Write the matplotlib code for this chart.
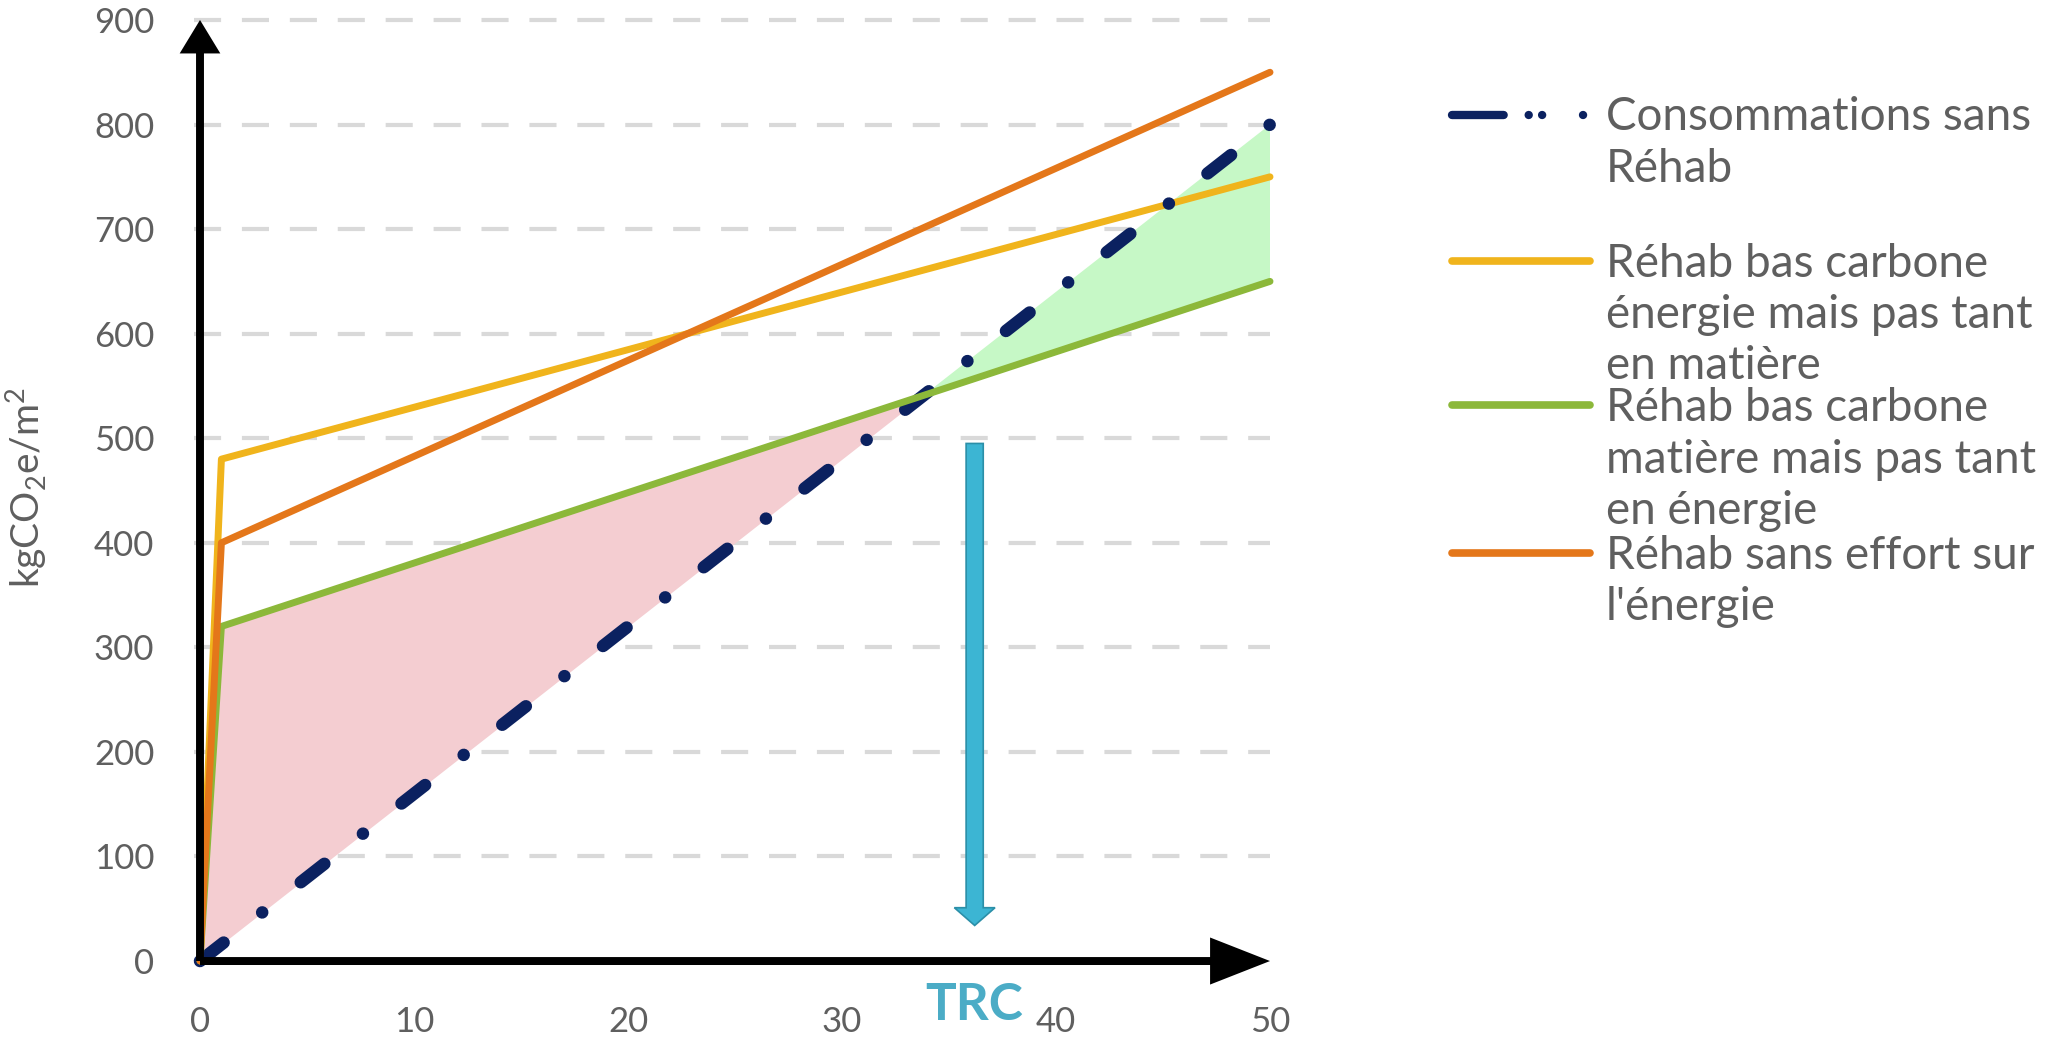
import numpy as np
import matplotlib
matplotlib.use("Agg")
import matplotlib.pyplot as plt
from matplotlib.lines import Line2D

plt.rcParams['font.family'] = ['Lato', 'DejaVu Sans']

# data (years -> kgCO2e/m2)
annees = [0, 1, 50]
sans_rehab = [0, 16, 800]
bas_carbone_energie = [0, 480, 750]
bas_carbone_matiere = [0, 320, 650]
sans_effort = [0, 400, 850]

labels = ["Consommations sans\nRéhab",
          "Réhab bas carbone\nénergie mais pas tant\nen matière",
          "Réhab bas carbone\nmatière mais pas tant\nen énergie",
          "Réhab sans effort sur\nl'énergie"]
yticks = [0, 100, 200, 300, 400, 500, 600, 700, 800, 900]
xticks = [0, 10, 20, 30, 40, 50]
trc = 36.2
trc_top = 495
trc_bottom = 34

navy = '#0b2160'
yellow = '#f0b41c'
green = '#8cb83a'
orange = '#e4771a'
grey = '#5f5f5f'
teal = '#3cb5d3'

W, H = 2064, 1037
fig = plt.figure(figsize=(W / 100, H / 100), dpi=100)
ax = fig.add_axes([157.2 / W, (H - 992.4) / H, 1155.6 / W, (992.4 - 4.3) / H])
ax.set_xlim(-2, 52)
ax.set_ylim(-30, 915)
for s in ax.spines.values():
    s.set_visible(False)

# grid
ax.hlines(yticks[1:], -0.3, 50, colors='#d9d9d9', lw=3, linestyles=(0, (6.5, 5)), zorder=0)

g = np.array(bas_carbone_matiere)
n = np.array(sans_rehab)
ax.fill_between(annees, n, g, where=g >= n, interpolate=True, color='#f4cdd1', lw=0, zorder=1)
ax.fill_between(annees, n, g, where=n >= g, interpolate=True, color='#c6f8c6', lw=0, zorder=1)

ax.plot(annees, bas_carbone_energie, color=yellow, lw=5, zorder=3, solid_capstyle='round')
ax.plot(annees, sans_rehab, color=navy, lw=9, zorder=4,
        linestyle=(0, (2.4, 3.91, 0.01, 3.91)), dash_capstyle='round')
ax.plot(annees, bas_carbone_matiere, color=green, lw=5, zorder=5, solid_capstyle='round')
ax.plot(annees, sans_effort, color=orange, lw=5, zorder=6, solid_capstyle='round')

# axes drawn as arrows
ax.arrow(0, 0, 0, 900, width=0.37, head_width=1.9, head_length=32,
         length_includes_head=True, color='black', lw=0, zorder=7, clip_on=False)
ax.arrow(0, 0, 50, 0, width=7.6, head_width=45, head_length=2.8,
         length_includes_head=True, color='black', lw=0, zorder=7, clip_on=False)

# TRC arrow
ax.arrow(trc, trc_top, 0, trc_bottom - trc_top, width=0.8, head_width=1.9, head_length=17,
         length_includes_head=True, facecolor=teal, edgecolor='#2b8fa8', lw=1.2, zorder=8)
ax.text(trc, -20, 'TRC', color='#4bacc6', fontsize=37, fontweight='bold',
        ha='center', va='top', zorder=9)

ax.set_xticks(xticks)
ax.set_yticks(yticks)
ax.tick_params(length=0, labelsize=25, labelcolor=grey)
ax.tick_params(axis='x', pad=10)
ax.tick_params(axis='y', pad=2)
ax.set_ylabel(r'kgCO$_\mathregular{2}$e/m$^\mathregular{2}$', fontsize=28, color=grey)
ax.yaxis.set_label_coords(-0.0928, 0.511)

# legend, drawn by hand to keep handles on the first text line
ys = [114.5, 260.6, 405.4, 552.8]
cols = [navy, yellow, green, orange]
for i in range(4):
    yf = 1 - ys[i] / H
    if i == 0:
        ln = Line2D([1452 / W, 1590 / W], [yf, yf], transform=fig.transFigure, color=navy, lw=6,
                    linestyle=(0, (6.2, 3.0, 0.01, 1.6, 0.01, 4.9, 0.01, 10)), dash_capstyle='round')
    else:
        ln = Line2D([1452 / W, 1590 / W], [yf, yf], transform=fig.transFigure, color=cols[i], lw=5.5,
                    solid_capstyle='round')
    fig.add_artist(ln)
    fig.text(1606 / W, 1 - (ys[i] - 18) / H, labels[i], fontsize=33, color=grey,
             va='top', ha='left', linespacing=1.27)

fig.savefig('out.png', dpi=100)
